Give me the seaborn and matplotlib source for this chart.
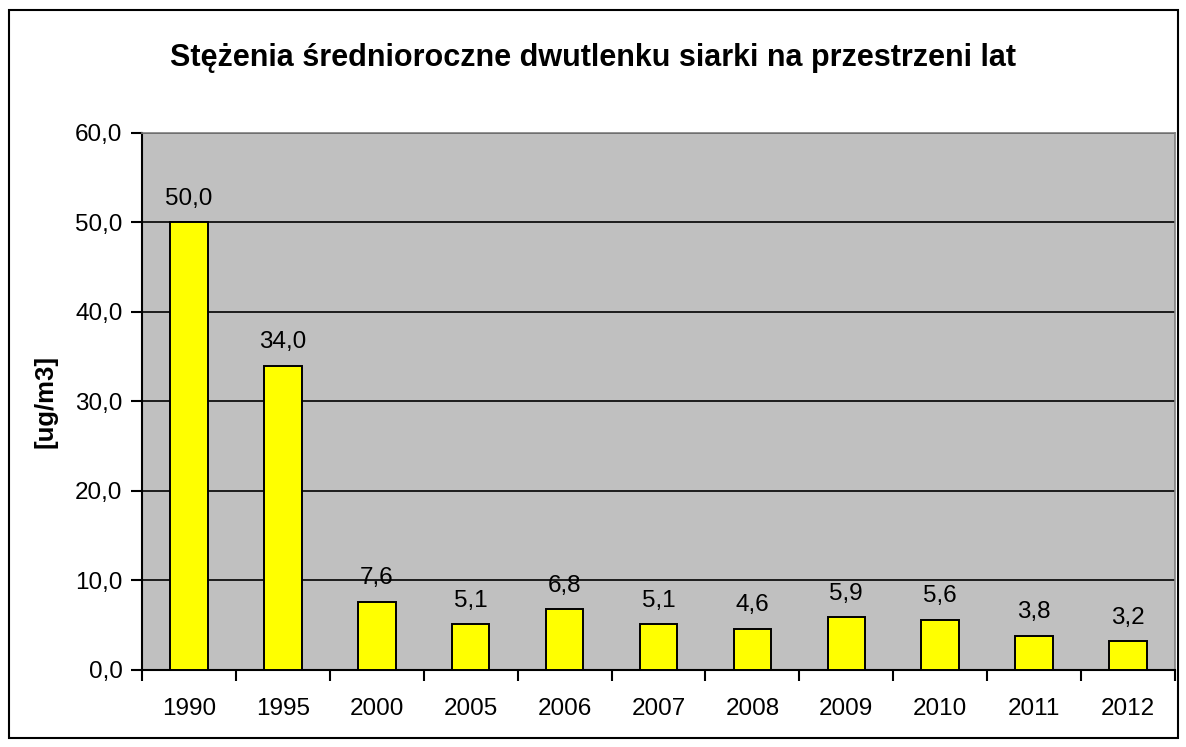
import matplotlib
matplotlib.use("Agg")
import matplotlib.pyplot as plt
import seaborn as sns
import pandas as pd

# Data
years = ["1990", "1995", "2000", "2005", "2006", "2007", "2008", "2009", "2010", "2011", "2012"]
values = [50.0, 34.0, 7.6, 5.1, 6.8, 5.1, 4.6, 5.9, 5.6, 3.8, 3.2]
labels = ["50,0", "34,0", "7,6", "5,1", "6,8", "5,1", "4,6", "5,9", "5,6", "3,8", "3,2"]
yticks = [0, 10, 20, 30, 40, 50, 60]
ytick_labels = ["0,0", "10,0", "20,0", "30,0", "40,0", "50,0", "60,0"]

df = pd.DataFrame({"rok": years, "stezenie": values})

sns.set_style("white")
plt.rcParams["font.family"] = ["Liberation Sans", "DejaVu Sans"]
plt.rcParams["text.color"] = "black"
plt.rcParams["xtick.color"] = "black"
plt.rcParams["ytick.color"] = "black"
plt.rcParams["axes.labelcolor"] = "black"

fig = plt.figure(figsize=(11.86, 7.47), dpi=100)
ax = fig.add_axes([0.1197, 0.1031, 0.8710, 0.7189])
ax.set_facecolor("#C0C0C0")

sns.barplot(data=df, x="rok", y="stezenie", color="#FFFF00", width=0.4,
            edgecolor="black", linewidth=1.4, saturation=1, ax=ax, zorder=3)

# value labels
for i, (v, t) in enumerate(zip(values, labels)):
    ax.annotate(t, (i, v), xytext=(0, 9), textcoords="offset points",
                ha="center", va="bottom", fontsize=17.5)

ax.set_ylim(0, 60)
ax.set_xlim(-0.5, len(years) - 0.5)
ax.set_yticks(yticks)
ax.set_yticklabels(ytick_labels, fontsize=17.5)
ax.yaxis.grid(True, color="black", linewidth=1.2, zorder=1)
ax.set_axisbelow(True)

# x ticks between categories, labels at centers
ax.set_xticks([i - 0.5 for i in range(len(years) + 1)])
ax.set_xticklabels([])
ax.set_xticks(range(len(years)), minor=True)
ax.set_xticklabels(years, minor=True, fontsize=17.5)
ax.tick_params(axis="x", which="major", bottom=True, direction="out", length=8, width=1.5, color="black")
ax.tick_params(axis="x", which="minor", bottom=True, length=0, pad=20)
ax.tick_params(axis="y", left=True, direction="out", length=8, width=1.5, color="black", pad=6)

for s in ["left", "bottom"]:
    ax.spines[s].set_color("black")
    ax.spines[s].set_linewidth(1.5)
for s in ["top", "right"]:
    ax.spines[s].set_color("#808080")
    ax.spines[s].set_linewidth(1.2)

ax.set_xlabel("")
ax.set_ylabel("[ug/m3]", fontsize=18.5, fontweight="bold")
ax.yaxis.set_label_coords(-0.082, 0.5)

fig.text(0.5, 0.922, "Stężenia średnioroczne dwutlenku siarki na przestrzeni lat",
         ha="center", va="center", fontsize=22, fontweight="bold")

# outer chart frame
frame = plt.Rectangle((0.0076, 0.012), 0.9856, 0.975, transform=fig.transFigure,
                      fill=False, edgecolor="black", linewidth=1.5)
fig.patches.append(frame)

fig.savefig("out.png", dpi=100)
